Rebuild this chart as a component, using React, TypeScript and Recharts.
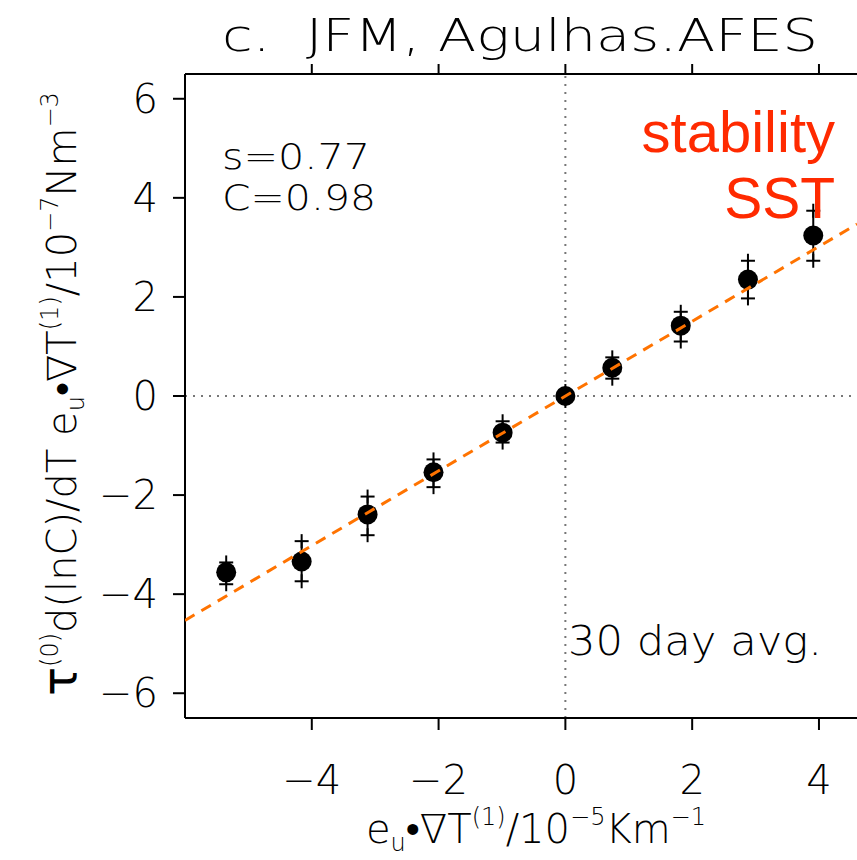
import React from "react";
import {
  ScatterChart,
  Scatter,
  XAxis,
  YAxis,
  ReferenceLine,
  ErrorBar,
} from "recharts";

// values
const xVals = [-5.35, -4.16, -3.12, -2.08, -0.99, 0.0, 0.74, 1.82, 2.88, 3.91];
const yVals = [-3.56, -3.34, -2.39, -1.54, -0.74, 0.0, 0.57, 1.42, 2.35, 3.24];
const upperVals = [-3.36, -2.93, -2.03, -1.28, -0.51, 0.1, 0.78, 1.7, 2.73, 3.74];
const lowerVals = [-3.8, -3.74, -2.81, -1.84, -0.94, -0.1, 0.35, 1.1, 1.97, 2.73];
const fitX = [-6, 4.6];
const fitY = [-4.53, 3.47];
const xTicks = [-4, -2, 0, 2, 4];
const yTicks = [-6, -4, -2, 0, 2, 4, 6];

const points = xVals.map((x, i) => ({
  x,
  y: yVals[i],
  err: [yVals[i] - lowerVals[i], upperVals[i] - yVals[i]],
}));
const uppers = xVals.map((x, i) => ({ x, y: upperVals[i] }));
const lowers = xVals.map((x, i) => ({ x, y: lowerVals[i] }));
const fit = fitX.map((x, i) => ({ x, y: fitY[i] }));

const FONT = "'DejaVu Sans', sans-serif";
const RED = "#ff2a00";
const ORANGE = "#ff7300";

const fmt = (v: number) => (v < 0 ? `\u2212${Math.abs(v)}` : `${v}`);

const Dot = (p: any) => <circle cx={p.cx} cy={p.cy} r={10} fill="#000" />;

const Plus = (p: any) => (
  <g stroke="#000" strokeWidth={2}>
    <line x1={p.cx - 7} x2={p.cx + 7} y1={p.cy} y2={p.cy} />
    <line x1={p.cx} x2={p.cx} y1={p.cy - 7} y2={p.cy + 7} />
  </g>
);

const Nothing = () => <g />;

const tickStyle = { fontSize: 40, fill: "#000", fontFamily: FONT, fontWeight: 200 };

export default function App() {
  return (
    <div style={{ position: "absolute", left: 0, top: 0, width: 857, height: 860, background: "#fff" }}>
      <ScatterChart
        width={857}
        height={860}
        margin={{ top: 54, right: 0, bottom: 82, left: 105 }}
      >
        <XAxis
          type="number"
          dataKey="x"
          domain={[-6, 4.6]}
          allowDataOverflow
          ticks={xTicks}
          tickFormatter={fmt}
          height={60}
          tickSize={12}
          tickMargin={36}
          axisLine={{ stroke: "#000", strokeWidth: 2 }}
          tickLine={{ stroke: "#000", strokeWidth: 2 }}
          tick={tickStyle}
        />
        <XAxis
          xAxisId="top"
          orientation="top"
          type="number"
          dataKey="x"
          domain={[-6, 4.6]}
          allowDataOverflow
          ticks={xTicks}
          tickFormatter={() => ""}
          height={20}
          tickSize={10}
          axisLine={{ stroke: "#000", strokeWidth: 2 }}
          tickLine={{ stroke: "#000", strokeWidth: 2 }}
        />
        <YAxis
          type="number"
          dataKey="y"
          domain={[-6.5, 6.5]}
          allowDataOverflow
          ticks={yTicks}
          tickFormatter={fmt}
          width={80}
          tickSize={12}
          tickMargin={15}
          axisLine={{ stroke: "#000", strokeWidth: 2 }}
          tickLine={{ stroke: "#000", strokeWidth: 2 }}
          tick={tickStyle}
        />
        <ReferenceLine x={0} stroke="#777" strokeWidth={2} strokeDasharray="2 6" />
        <ReferenceLine y={0} stroke="#777" strokeWidth={2} strokeDasharray="2 6" />
        <Scatter data={uppers} shape={Plus} isAnimationActive={false} />
        <Scatter data={lowers} shape={Plus} isAnimationActive={false} />
        <Scatter data={points} shape={Dot} isAnimationActive={false}>
          <ErrorBar dataKey="err" direction="y" width={0} stroke="#000" strokeWidth={2} />
        </Scatter>
        <Scatter
          data={fit}
          line={{ stroke: ORANGE, strokeWidth: 3, strokeDasharray: "11 8" }}
          shape={Nothing}
          isAnimationActive={false}
        />
      </ScatterChart>

      <svg
        width={857}
        height={860}
        style={{ position: "absolute", left: 0, top: 0, pointerEvents: "none" }}
      >
        <text x={222} y={51} fontSize={44} fontFamily={FONT} fontWeight={200} xmlSpace="preserve" textLength={596} lengthAdjust="spacingAndGlyphs">
          c.  JFM, Agulhas.AFES
        </text>
        <text x={222} y={169} fontSize={35} fontFamily={FONT} fontWeight={200} textLength={148} lengthAdjust="spacingAndGlyphs">s=0.77</text>
        <text x={222} y={210} fontSize={35} fontFamily={FONT} fontWeight={200} textLength={154} lengthAdjust="spacingAndGlyphs">C=0.98</text>
        <text x={835} y={152} fontSize={58} fontFamily="'Liberation Sans', Arial, sans-serif" fill={RED} textAnchor="end">stability</text>
        <text x={835} y={218} fontSize={57} fontFamily="'Liberation Sans', Arial, sans-serif" fill={RED} textAnchor="end">SST</text>
        <text x={568} y={655} fontSize={40} fontFamily={FONT} fontWeight={200} textLength={254} lengthAdjust="spacingAndGlyphs">30 day avg.</text>

        <text x={536} y={843} fontSize={40} fontFamily={FONT} fontWeight={200} textAnchor="middle">
          e<tspan fontSize={24} dy={8}>u</tspan>
          <tspan dy={-8}>•∇T</tspan>
          <tspan fontSize={24} dy={-18}>(1)</tspan>
          <tspan dy={18}>/10</tspan>
          <tspan fontSize={24} dy={-18}>−5</tspan>
          <tspan dy={18}>Km</tspan>
          <tspan fontSize={24} dy={-18}>−1</tspan>
        </text>

        <text
          transform="translate(76,394) rotate(-90)"
          x={0}
          y={0}
          fontSize={40}
          fontFamily={FONT}
          fontWeight={200}
          textAnchor="middle"
        >
          <tspan fontSize={48} fontWeight={400}>τ</tspan>
          <tspan fontSize={24} dy={-18}>(0)</tspan>
          <tspan dy={18}>d(lnC)/dT  e</tspan>
          <tspan fontSize={24} dy={8}>u</tspan>
          <tspan dy={-8}>•∇T</tspan>
          <tspan fontSize={24} dy={-18}>(1)</tspan>
          <tspan dy={18}>/10</tspan>
          <tspan fontSize={24} dy={-18}>−7</tspan>
          <tspan dy={18}>Nm</tspan>
          <tspan fontSize={24} dy={-18}>−3</tspan>
        </text>
      </svg>
    </div>
  );
}
